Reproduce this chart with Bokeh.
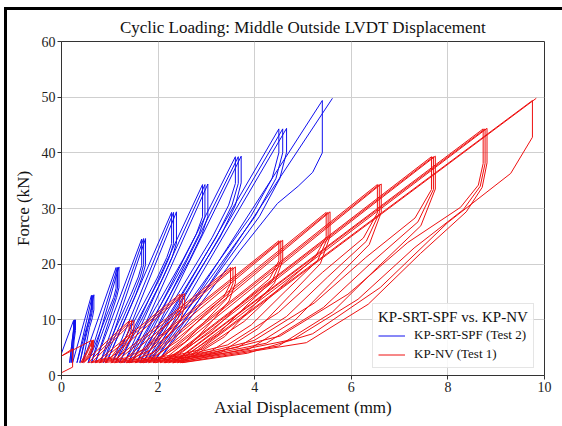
from bokeh.plotting import figure
from bokeh.layouts import column
from bokeh.models import Legend, LegendItem, FixedTicker, Range1d
from bokeh.embed import file_html
from bokeh.resources import INLINE

chart_title = "Cyclic Loading: Middle Outside LVDT Displacement"
x_label = "Axial Displacement (mm)"
y_label = "Force (kN)"
legend_title = "KP-SRT-SPF vs. KP-NV"
blue_name = "KP-SRT-SPF (Test 2)"
red_name = "KP-NV (Test 1)"
x_ticks = [0, 2, 4, 6, 8, 10]
y_ticks = [0, 10, 20, 30, 40, 50, 60]

# KP-SRT-SPF (Test 2) hysteresis path: displacement (mm) and force (kN)
blue_disp = [
    0.00,
    0.25, 0.25, 0.22, 0.17,
    0.27, 0.27, 0.24, 0.20,
    0.29, 0.29, 0.26, 0.23,
    0.62, 0.62, 0.59, 0.52, 0.32,
    0.64, 0.64, 0.61, 0.55, 0.38,
    0.67, 0.67, 0.64, 0.58, 0.44,
    1.13, 1.13, 1.08, 0.97, 0.55,
    1.16, 1.16, 1.11, 1.01, 0.62,
    1.19, 1.19, 1.14, 1.05, 0.70,
    1.66, 1.66, 1.59, 1.44, 0.80,
    1.70, 1.70, 1.63, 1.49, 0.87,
    1.74, 1.74, 1.67, 1.54, 0.93,
    2.28, 2.28, 2.18, 1.98, 1.05,
    2.32, 2.32, 2.23, 2.04, 1.12,
    2.38, 2.38, 2.29, 2.10, 1.20,
    2.92, 2.92, 2.79, 2.52, 1.30,
    2.97, 2.97, 2.85, 2.59, 1.38,
    3.03, 3.03, 2.91, 2.66, 1.45,
    3.60, 3.60, 3.46, 3.12, 1.55,
    3.66, 3.66, 3.53, 3.20, 1.62,
    3.72, 3.72, 3.60, 3.28, 1.68,
    4.50, 4.50, 4.36, 3.92, 1.75,
    4.58, 4.58, 4.44, 4.01, 1.82,
    4.66, 4.66, 4.52, 4.10, 1.90,
    5.40, 5.40, 5.20, 4.90, 4.47, 3.70, 2.00,
    5.61,
]
blue_force = [
    4.0,
    9.9, 8.0, 6.2, 2.3,
    10.0, 8.1, 6.2, 2.3,
    10.0, 8.1, 6.2, 2.3,
    14.4, 11.7, 10.4, 8.6, 2.3,
    14.4, 11.7, 10.4, 8.6, 2.3,
    14.5, 11.8, 10.4, 8.6, 2.3,
    19.4, 15.7, 14.0, 11.6, 2.3,
    19.4, 15.7, 14.0, 11.6, 2.3,
    19.5, 15.8, 14.0, 11.6, 2.3,
    24.5, 19.8, 17.7, 14.6, 2.3,
    24.6, 19.9, 17.7, 14.6, 2.3,
    24.6, 19.9, 17.7, 14.6, 2.3,
    29.3, 23.7, 21.2, 17.5, 2.3,
    29.3, 23.7, 21.2, 17.5, 2.3,
    29.4, 23.8, 21.2, 17.5, 2.3,
    34.3, 28.5, 25.4, 20.9, 2.3,
    34.3, 28.5, 25.4, 20.9, 2.3,
    34.4, 28.6, 25.4, 20.9, 2.3,
    39.3, 34.5, 30.6, 24.8, 2.3,
    39.3, 34.5, 30.6, 24.8, 2.3,
    39.4, 34.6, 30.6, 24.8, 2.3,
    44.3, 40.0, 35.4, 28.6, 2.3,
    44.3, 40.0, 35.4, 28.6, 2.3,
    44.4, 40.1, 35.4, 28.6, 2.3,
    49.4, 40.0, 36.5, 34.0, 30.9, 22.5, 2.5,
    49.8,
]

# KP-NV (Test 1) hysteresis path: displacement (mm) and force (kN)
red_disp = [
    0.00, 0.23, 0.23, 0.00,
    0.62, 0.62, 0.55, 0.40,
    0.64, 0.64, 0.57, 0.43,
    0.66, 0.66, 0.59, 0.46,
    1.40, 1.40, 1.35, 1.20, 1.03, 0.55,
    1.45, 1.45, 1.40, 1.26, 1.10, 0.62,
    1.50, 1.50, 1.45, 1.32, 1.17, 0.70,
    2.45, 2.45, 2.35, 2.04, 1.72, 1.35, 0.78,
    2.50, 2.50, 2.41, 2.12, 1.82, 1.46, 0.90,
    2.55, 2.55, 2.47, 2.20, 1.92, 1.57, 1.02,
    3.50, 3.50, 3.35, 2.91, 2.44, 1.90, 1.10,
    3.55, 3.55, 3.41, 3.00, 2.56, 2.04, 1.22,
    3.60, 3.60, 3.47, 3.09, 2.68, 2.18, 1.34,
    4.50, 4.50, 4.31, 3.73, 3.12, 2.42, 1.40,
    4.54, 4.54, 4.36, 3.82, 3.25, 2.58, 1.52,
    4.58, 4.58, 4.41, 3.91, 3.38, 2.74, 1.63,
    5.48, 5.48, 5.24, 4.53, 3.78, 2.91, 1.70,
    5.52, 5.52, 5.30, 4.63, 3.93, 3.10, 1.80,
    5.56, 5.56, 5.36, 4.73, 4.08, 3.29, 1.90,
    6.54, 6.54, 6.25, 5.40, 4.49, 3.44, 1.95,
    6.58, 6.58, 6.31, 5.51, 4.66, 3.66, 2.04,
    6.62, 6.62, 6.37, 5.62, 4.83, 3.88, 2.12,
    7.66, 7.66, 7.32, 6.30, 5.23, 3.99, 2.15,
    7.70, 7.70, 7.38, 6.42, 5.42, 4.24, 2.22,
    7.74, 7.74, 7.44, 6.54, 5.61, 4.49, 2.30,
    8.73, 8.73, 8.63, 8.26, 7.17, 5.93, 4.53, 2.32,
    8.77, 8.77, 8.67, 8.32, 7.30, 6.14, 4.80, 2.40,
    8.81, 8.81, 8.71, 8.38, 7.43, 6.35, 5.07, 2.46,
    9.75, 9.75, 9.30, 8.00, 6.60, 5.20, 3.85, 2.50,
    9.83,
]
red_force = [
    0.5, 1.5, 4.8, 3.5,
    6.3, 5.0, 3.6, 2.3,
    6.3, 5.0, 3.6, 2.3,
    6.4, 5.1, 3.6, 2.3,
    9.8, 8.3, 7.1, 5.3, 3.3, 2.3,
    9.9, 8.4, 7.0, 5.1, 3.2, 2.3,
    9.9, 8.4, 6.9, 4.9, 3.1, 2.3,
    14.6, 12.4, 10.5, 7.9, 4.8, 3.2, 2.3,
    14.6, 12.4, 10.3, 7.5, 4.5, 3.1, 2.3,
    14.7, 12.5, 10.1, 7.1, 4.2, 3.0, 2.3,
    19.4, 16.5, 14.0, 10.5, 6.4, 3.3, 2.3,
    19.4, 16.5, 13.7, 10.0, 6.0, 3.2, 2.3,
    19.5, 16.6, 13.4, 9.5, 5.6, 3.1, 2.3,
    24.2, 20.6, 17.4, 13.1, 8.0, 3.9, 2.3,
    24.2, 20.6, 17.0, 12.5, 7.5, 3.7, 2.3,
    24.3, 20.7, 16.6, 11.9, 7.0, 3.5, 2.3,
    29.3, 24.9, 21.1, 15.8, 9.7, 4.7, 2.3,
    29.3, 24.9, 20.6, 15.1, 9.1, 4.4, 2.3,
    29.4, 25.0, 20.1, 14.4, 8.5, 4.1, 2.3,
    34.3, 29.2, 24.7, 18.5, 11.3, 5.5, 2.3,
    34.3, 29.2, 24.1, 17.7, 10.6, 5.1, 2.3,
    34.4, 29.3, 23.5, 16.9, 9.9, 4.7, 2.3,
    39.3, 33.4, 28.3, 21.2, 13.0, 6.3, 2.3,
    39.3, 33.4, 27.6, 20.3, 12.2, 5.8, 2.3,
    39.4, 33.5, 26.9, 19.4, 11.4, 5.3, 2.3,
    44.3, 38.1, 34.2, 30.2, 23.9, 14.6, 7.1, 2.3,
    44.3, 38.1, 34.0, 29.8, 22.9, 13.7, 6.5, 2.3,
    44.4, 38.2, 33.8, 29.4, 21.9, 12.8, 5.9, 2.3,
    49.4, 42.8, 36.3, 27.5, 15.8, 7.5, 4.0, 2.3,
    49.8,
]

SERIF = "Liberation Serif"

p = figure(
    width=562, height=426,
    x_range=Range1d(0, 10), y_range=Range1d(0, 60),
    output_backend="svg", toolbar_location=None,
    title=chart_title,
    min_border_left=61, min_border_right=18,
    min_border_top=41, min_border_bottom=51,
)
p.border_fill_alpha = 0.0

p.title.align = "center"
p.title.text_font = SERIF
p.title.text_font_size = "17px"
p.title.text_font_style = "normal"
p.title.text_color = "#111111"

rb = p.line(blue_disp, blue_force, line_color="#1010ee", line_width=1.0)
rr = p.line(red_disp, red_force, line_color="#ee1010", line_width=1.0)

p.xaxis.ticker = FixedTicker(ticks=x_ticks)
p.yaxis.ticker = FixedTicker(ticks=y_ticks)
for ax in (p.xaxis[0], p.yaxis[0]):
    ax.major_label_text_font = SERIF
    ax.major_label_text_font_size = "14px"
    ax.major_label_text_color = "#222222"
    ax.axis_label_text_font = SERIF
    ax.axis_label_text_font_size = "17px"
    ax.axis_label_text_font_style = "normal"
    ax.axis_label_text_color = "#111111"
    ax.axis_line_color = "#333333"
    ax.major_tick_line_color = "#333333"
    ax.major_tick_out = 4
    ax.major_tick_in = 0
    ax.minor_tick_line_color = None
    ax.major_label_standoff = 2
    ax.axis_label_standoff = 3
p.xaxis.axis_label = x_label
p.yaxis.axis_label = y_label
p.yaxis.axis_label_standoff = 6

p.background_fill_color = "#ffffff"
p.outline_line_color = "#333333"
p.outline_line_width = 1
p.grid.grid_line_color = "#cfcfcf"
p.grid.grid_line_width = 1

legend = Legend(
    items=[LegendItem(label=blue_name, renderers=[rb]),
           LegendItem(label=red_name, renderers=[rr])],
    title=legend_title,
    location=(311, 7),
)
legend.title_text_font = SERIF
legend.title_text_font_size = "15px"
legend.title_text_font_style = "normal"
legend.title_text_color = "#111111"
legend.title_standoff = 1
legend.label_text_font = SERIF
legend.label_text_font_size = "13px"
legend.label_text_color = "#111111"
legend.glyph_width = 27
legend.glyph_height = 15
legend.label_height = 15
legend.label_standoff = 9
legend.spacing = 3
legend.padding = 5
legend.margin = 0
legend.border_line_color = "#cccccc"
legend.background_fill_alpha = 0.85
p.add_layout(legend)

# black picture frame (top and left edges) painted on the wrapping layout
page = column(p, width=562, height=426, styles={
    "background": (
        "linear-gradient(#000000, #000000) 4px 7px / 3px 419px no-repeat, "
        "linear-gradient(#000000, #000000) 4px 7px / 558px 3px no-repeat, "
        "#ffffff"
    ),
})

open("out.html", "w").write(file_html(page, INLINE))
